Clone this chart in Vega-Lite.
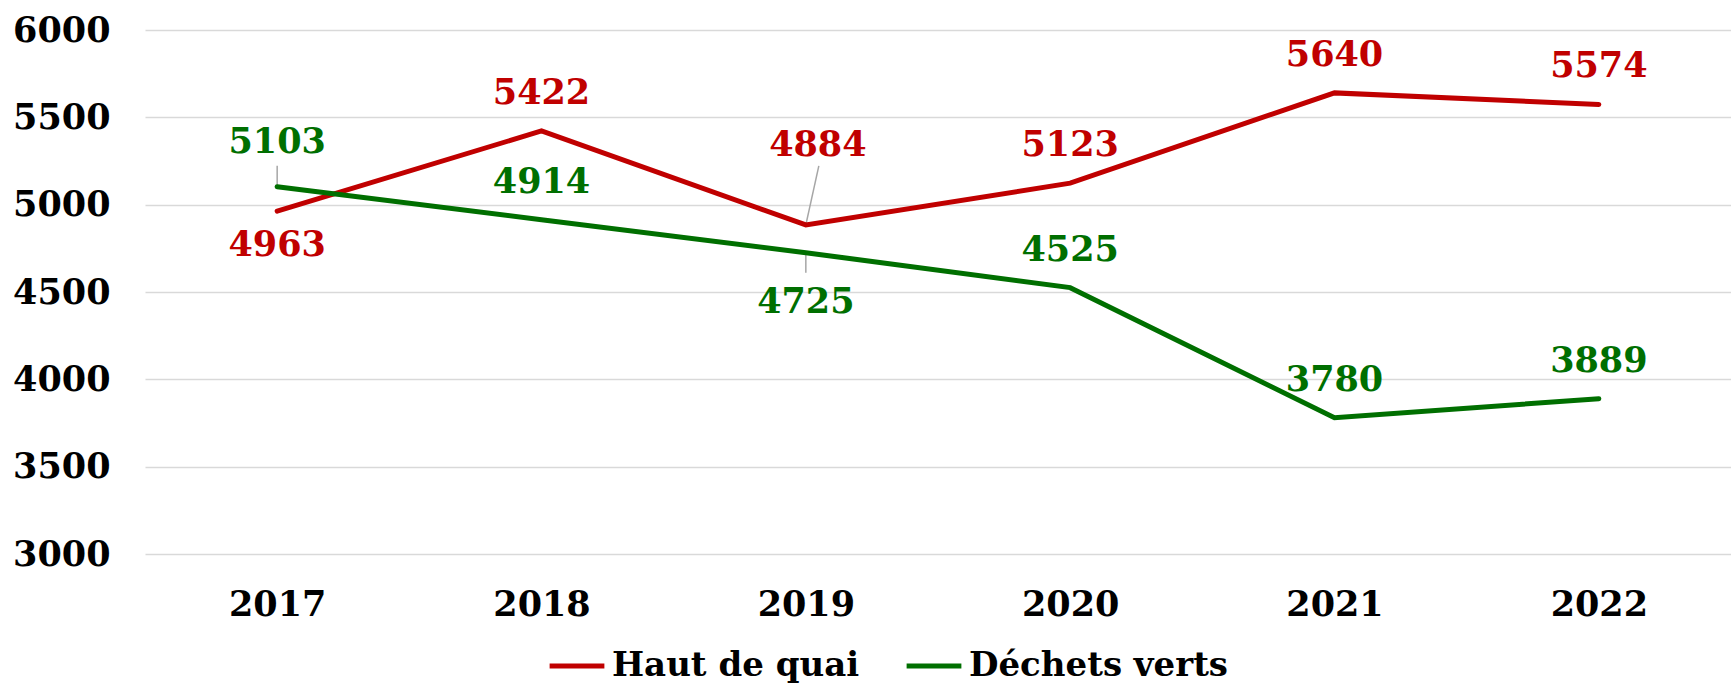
{
  "$schema": "https://vega.github.io/schema/vega-lite/v6.json",
  "autosize": {"type": "none"},
  "width": 1586,
  "height": 524,
  "padding": {"left": 145, "top": 30, "right": 0, "bottom": 133},
  "background": "white",
  "config": {
    "view": {"stroke": null},
    "font": "DejaVu Serif",
    "axis": {"labelFont": "DejaVu Serif", "labelFontWeight": "bold", "labelFontSize": 35, "labelColor": "black", "domain": false, "ticks": false, "tickSize": 0, "title": null}
  },
  "data": {
    "values": [
      {"year": "2017", "series": "Haut de quai", "value": 4963, "pos": "below"},
      {"year": "2018", "series": "Haut de quai", "value": 5422, "pos": "above"},
      {"year": "2019", "series": "Haut de quai", "value": 4884, "pos": "far"},
      {"year": "2020", "series": "Haut de quai", "value": 5123, "pos": "above"},
      {"year": "2021", "series": "Haut de quai", "value": 5640, "pos": "above"},
      {"year": "2022", "series": "Haut de quai", "value": 5574, "pos": "above"},
      {"year": "2017", "series": "Déchets verts", "value": 5103, "pos": "leadup"},
      {"year": "2018", "series": "Déchets verts", "value": 4914, "pos": "above"},
      {"year": "2019", "series": "Déchets verts", "value": 4725, "pos": "leaddown"},
      {"year": "2020", "series": "Déchets verts", "value": 4525, "pos": "above"},
      {"year": "2021", "series": "Déchets verts", "value": 3780, "pos": "above"},
      {"year": "2022", "series": "Déchets verts", "value": 3889, "pos": "above"}
    ]
  },
  "encoding": {
    "x": {"field": "year", "type": "ordinal", "scale": {"type": "point", "padding": 0.5},
          "axis": {"labelAngle": 0, "labelPadding": 33, "labelBaseline": "top", "grid": false}},
    "y": {"field": "value", "type": "quantitative", "scale": {"domain": [3000, 6000], "nice": false, "zero": false},
          "axis": {"values": [3000, 3500, 4000, 4500, 5000, 5500, 6000], "labelPadding": 35, "grid": true, "gridColor": "#D9D9D9", "gridWidth": 1.5, "format": "d"}},
    "color": {"field": "series", "type": "nominal",
              "scale": {"domain": ["Haut de quai", "Déchets verts"], "range": ["#C00000", "#006F00"]}}
  },
  "layer": [
    {
      "mark": {"type": "rule", "color": "#A6A6A6", "strokeWidth": 1.5, "y2Offset": -21},
      "transform": [{"filter": "datum.pos === 'leadup'"}],
      "encoding": {"y2": {"field": "value"}, "color": {"value": "#A6A6A6"}}
    },
    {
      "mark": {"type": "rule", "color": "#A6A6A6", "strokeWidth": 1.5, "y2Offset": 20},
      "transform": [{"filter": "datum.pos === 'leaddown'"}],
      "encoding": {"y2": {"field": "value"}, "color": {"value": "#A6A6A6"}}
    },
    {
      "mark": {"type": "rule", "color": "#A6A6A6", "strokeWidth": 1.5, "x2Offset": 13, "y2Offset": -59},
      "transform": [{"filter": "datum.pos === 'far'"}],
      "encoding": {"x2": {"field": "year"}, "y2": {"field": "value"}, "color": {"value": "#A6A6A6"}}
    },
    {
      "mark": {"type": "line", "strokeWidth": 5, "strokeCap": "round"},
      "encoding": {
        "color": {"field": "series", "type": "nominal",
                  "scale": {"domain": ["Haut de quai", "Déchets verts"], "range": ["#C00000", "#006F00"]},
                  "legend": {"title": null, "orient": "none", "legendX": 402, "legendY": 606, "direction": "horizontal",
                             "symbolType": "stroke", "symbolSize": 3000, "symbolStrokeWidth": 5, "symbolOffset": 0,
                             "labelFont": "DejaVu Serif", "labelFontWeight": "bold", "labelFontSize": 34, "labelColor": "black",
                             "labelLimit": 0, "labelOffset": 5, "columnPadding": 36}}
      }
    },
    {
      "mark": {"type": "text", "fontWeight": "bold", "fontSize": 35, "baseline": "middle", "dy": -38},
      "transform": [{"filter": "datum.pos === 'above'"}],
      "encoding": {"text": {"field": "value", "type": "quantitative", "format": "d"}}
    },
    {
      "mark": {"type": "text", "fontWeight": "bold", "fontSize": 35, "baseline": "middle", "dy": 34},
      "transform": [{"filter": "datum.pos === 'below'"}],
      "encoding": {"text": {"field": "value", "type": "quantitative", "format": "d"}}
    },
    {
      "mark": {"type": "text", "fontWeight": "bold", "fontSize": 35, "baseline": "middle", "dy": -45},
      "transform": [{"filter": "datum.pos === 'leadup'"}],
      "encoding": {"text": {"field": "value", "type": "quantitative", "format": "d"}}
    },
    {
      "mark": {"type": "text", "fontWeight": "bold", "fontSize": 35, "baseline": "middle", "dy": 49},
      "transform": [{"filter": "datum.pos === 'leaddown'"}],
      "encoding": {"text": {"field": "value", "type": "quantitative", "format": "d"}}
    },
    {
      "mark": {"type": "text", "fontWeight": "bold", "fontSize": 35, "baseline": "middle", "dy": -80, "dx": 12},
      "transform": [{"filter": "datum.pos === 'far'"}],
      "encoding": {"text": {"field": "value", "type": "quantitative", "format": "d"}}
    }
  ]
}
